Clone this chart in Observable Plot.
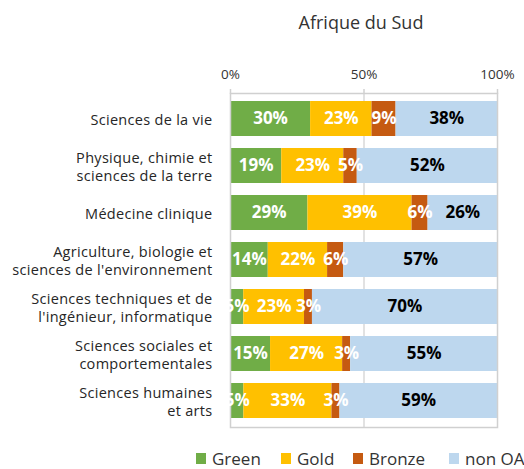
<!DOCTYPE html>
<html>
<head>
<meta charset="utf-8">
<script src="https://cdn.jsdelivr.net/npm/d3@7"></script>
<script src="https://cdn.jsdelivr.net/npm/@observablehq/plot@0.6"></script>
<style>
  body { margin: 0; background: #fff; }
  #wrap { position: relative; width: 524px; height: 469px; font-family: "Open Sans", sans-serif; color: #333; }
  #title { position: absolute; left: 0; top: 10px; width: 524px; text-align: center; padding-left: 198px; box-sizing: border-box; font-size: 18px; }
  #chart { position: absolute; left: 0; top: 0; }
  #chart g[aria-label="y-axis tick label"] text { letter-spacing: 0.3px; }
  .lg { position: absolute; top: 447px; font-size: 17px; line-height: 24px; white-space: nowrap; }
  .sw { position: absolute; top: 453px; width: 10px; height: 11px; }
</style>
</head>
<body>
<div id="wrap">
  <div id="chart"></div>
  <div id="title">Afrique du Sud</div>
</div>
<script>
const categories = [
  "Sciences de la vie",
  "Physique, chimie et\nsciences de la terre",
  "Médecine clinique",
  "Agriculture, biologie et\nsciences de l'environnement",
  "Sciences techniques et de\nl'ingénieur, informatique",
  "Sciences sociales et\ncomportementales",
  "Sciences humaines\net arts"
];
const types = ["Green", "Gold", "Bronze", "non OA"];
const colors = ["#70ad47", "#ffc000", "#c55a11", "#bdd7ee"];
const green  = [30, 19, 29, 14, 5, 15, 5];
const gold   = [23, 23, 39, 22, 23, 27, 33];
const bronze = [9, 5, 6, 6, 3, 3, 3];
const nonOA  = [38, 52, 26, 57, 70, 55, 59];
const xTicks = [0, 0.5, 1];

const series = [green, gold, bronze, nonOA];
const table = [];
categories.forEach((cat, i) => {
  types.forEach((t, j) => table.push({cat, type: t, value: series[j][i]}));
});

const stackOpts = {x: "value", y: "cat", z: "type", offset: "normalize", order: types};

const chart = Plot.plot({
  width: 524,
  height: 469,
  marginTop: 93,
  marginBottom: 42,
  marginLeft: 230,
  marginRight: 27,
  style: {fontFamily: "Open Sans, sans-serif", background: "transparent"},
  x: {domain: [0, 1]},
  y: {domain: categories, paddingInner: 0.25, paddingOuter: 0.125},
  color: {domain: types, range: colors},
  marks: [
    Plot.ruleX([0.5], {stroke: "#d9d9d9", strokeWidth: 1.5}),
    Plot.barX(table, Plot.stackX({...stackOpts, fill: "type"})),
    Plot.frame({stroke: "#d0d0d0", strokeWidth: 1.5}),
    Plot.axisX({
      anchor: "top", ticks: xTicks, tickFormat: d3.format(".0%"),
      tickSize: 5, tickPadding: 10, stroke: "#d0d0d0", strokeWidth: 1.5,
      fontSize: 13.5, fill: "#333", label: null
    }),
    Plot.axisY({
      tickSize: 0, tickPadding: 18, fontSize: 14.5, lineHeight: 1.3,
      fill: "#262626", label: null
    }),
    Plot.text(table, Plot.stackX({
      ...stackOpts,
      text: d => d.type === "non OA" ? "" : d.value + "%",
      fill: "white", fontWeight: "bold", fontSize: 17
    })),
    Plot.text(table, Plot.stackX({
      ...stackOpts,
      text: d => d.type === "non OA" ? d.value + "%" : "",
      fill: "black", fontWeight: "bold", fontSize: 17
    }))
  ]
});
document.getElementById("chart").appendChild(chart);

// legend
const wrap = document.getElementById("wrap");
const swX = [196, 281, 353, 449];
types.forEach((t, j) => {
  const sw = document.createElement("div");
  sw.className = "sw";
  sw.style.left = swX[j] + "px";
  sw.style.background = colors[j];
  wrap.appendChild(sw);
  const lb = document.createElement("div");
  lb.className = "lg";
  lb.style.left = (swX[j] + 16) + "px";
  lb.textContent = t;
  wrap.appendChild(lb);
});
</script>
</body>
</html>
